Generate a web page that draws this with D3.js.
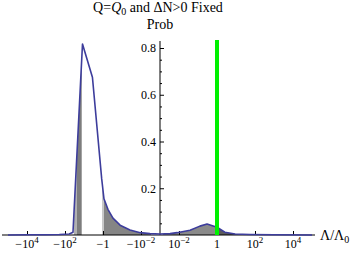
<!DOCTYPE html>
<html>
<head>
<meta charset="utf-8">
<script src="https://cdn.jsdelivr.net/npm/d3@7"></script>
<style>
body { margin: 0; background: #fff; }
text { font-family: "Liberation Serif", "DejaVu Serif", serif; fill: #000; }
</style>
</head>
<body>
<script>
var width = 360
var height = 256

// curve: Lambda/Lambda0 values and probability
var lambdaVals = [-1e5, -1e4, -1e3, -200, -60, -38, -12, -3.6, -1.17, -0.89, -0.55, -0.3, -0.126, -0.038, -0.011, -0.0034, -0.001,
                  0.001, 0.0034, 0.0078, 0.038, 0.126, 0.3, 1, 2.6, 9, 55, 1e3, 1e5]
var probVals = [0, 0.001, 0.001, 0.002, 0.004, 0.012, 0.817, 0.675, 0.24, 0.155, 0.11, 0.072, 0.042, 0.021, 0.01, 0.006, 0.004,
                0.004, 0.006, 0.01, 0.02, 0.038, 0.047, 0.033, 0.012, 0.004, 0.002, 0.001, 0]

// shaded intervals under the curve
var fillLo = [-34, -24, -1.12, -0.89, 0.00145, 1]
var fillHi = [-24, -13.2, -0.89, -0.003, 1, 1e5]
var fillColors = ["#b0b0b0", "#7d7d7d", "#c8c8c8", "#858585", "#8a8a8a", "#5c5c5c"]

var markerAt = 1
var yTicks = [0.2, 0.4, 0.6, 0.8]
var xTickVals = [-1e4, -1e2, -1, -1e-2, 1e-2, 1, 1e2, 1e4]

// signed log: distance in decades from +-10^-3
function toU(v) {
    return v > 0 ? Math.log10(v) + 3 : -(Math.log10(-v) + 3)
}

var x = d3.scaleLinear().domain([-8, 8]).range([8, 312])
var y = d3.scaleLinear().domain([0, 0.8]).range([235, 48])
function px(v) { return x(toU(v)) }

var svg = d3.select("body").append("svg")
.attr("width", width)
.attr("height", height)

var pts = lambdaVals.map(function(d, i) { return [d, probVals[i]] })

var defs = svg.append("defs")
fillLo.forEach(function(lo, i) {
    defs.append("clipPath").attr("id", "clip" + i)
    .append("rect")
    .attr("x", px(lo))
    .attr("y", 0)
    .attr("width", px(fillHi[i]) - px(lo))
    .attr("height", height)
})

var area = d3.area()
.x(function(d) { return px(d[0]) })
.y0(y(0))
.y1(function(d) { return y(d[1]) })

fillLo.forEach(function(lo, i) {
    svg.append("path")
    .datum(pts)
    .attr("clip-path", "url(#clip" + i + ")")
    .attr("d", area)
    .attr("fill", fillColors[i])
})

// x axis
svg.append("line")
.attr("x1", 2).attr("x2", 315)
.attr("y1", y(0)).attr("y2", y(0))
.attr("stroke", "#000")

var xAxis = svg.append("g")
.attr("transform", "translate(0," + y(0) + ")")
.call(d3.axisBottom(x)
    .tickValues(xTickVals.map(toU))
    .tickSizeInner(-4)
    .tickSizeOuter(0)
    .tickFormat(""))
xAxis.select(".domain").remove()

xTickVals.forEach(function(v) {
    var e = Math.round(Math.log10(Math.abs(v)))
    var sign = v < 0 ? "\u2212" : ""
    var t = svg.append("text")
    .attr("x", px(v))
    .attr("y", 248)
    .attr("text-anchor", "middle")
    .style("font-size", "12px")
    if (e == 0) {
        t.text(sign + "1")
    } else {
        t.append("tspan").text(sign + "10")
        t.append("tspan")
        .attr("dy", -5)
        .style("font-size", "9px")
        .text(e < 0 ? "\u2212" + (-e) : e)
    }
})

// y axis
svg.append("line")
.attr("x1", x(0)).attr("x2", x(0))
.attr("y1", 41).attr("y2", y(0))
.attr("stroke", "#000")

var yAxis = svg.append("g")
.attr("transform", "translate(" + x(0) + ",0)")
.call(d3.axisLeft(y)
    .tickValues(yTicks)
    .tickSizeInner(-4)
    .tickSizeOuter(0)
    .tickPadding(4)
    .tickFormat(d3.format(".1f")))
yAxis.select(".domain").remove()
yAxis.selectAll("text")
.style("font-size", "12px")

var minor = d3.range(1, 17).map(function(i) { return i * 0.05 }).filter(function(d) { return Math.abs(d * 5 - Math.round(d * 5)) > 1e-6 })
var yMinor = svg.append("g")
.attr("transform", "translate(" + x(0) + ",0)")
.call(d3.axisLeft(y).tickValues(minor).tickSizeInner(-2).tickSizeOuter(0).tickFormat(""))
yMinor.select(".domain").remove()

// curve
svg.append("path")
.datum(pts)
.attr("d", d3.line().x(function(d) { return px(d[0]) }).y(function(d) { return y(d[1]) }))
.attr("fill", "none")
.attr("stroke", "#3d3d9c")
.attr("stroke-width", 1.6)
.attr("stroke-linejoin", "round")

// marker at Lambda = Lambda0
svg.append("line")
.attr("x1", px(markerAt)).attr("x2", px(markerAt))
.attr("y1", 40).attr("y2", y(0))
.attr("stroke", "#00f000")
.attr("stroke-width", 4)

// labels
var title = svg.append("text")
.attr("x", 158).attr("y", 12)
.attr("text-anchor", "middle")
.style("font-size", "14px")
title.append("tspan").text("Q=")
title.append("tspan").style("font-style", "italic").text("Q")
title.append("tspan").attr("dy", 3).style("font-size", "10px").text("0")
title.append("tspan").attr("dy", -3).text(" and \u0394N>0 Fixed")

svg.append("text")
.attr("x", 160).attr("y", 29)
.attr("text-anchor", "middle")
.style("font-size", "14px")
.text("Prob")

var xl = svg.append("text")
.attr("x", 320).attr("y", 240)
.style("font-size", "14px")
xl.append("tspan").text("\u039B/\u039B")
xl.append("tspan").attr("dy", 3).style("font-size", "10px").text("0")
</script>
</body>
</html>
